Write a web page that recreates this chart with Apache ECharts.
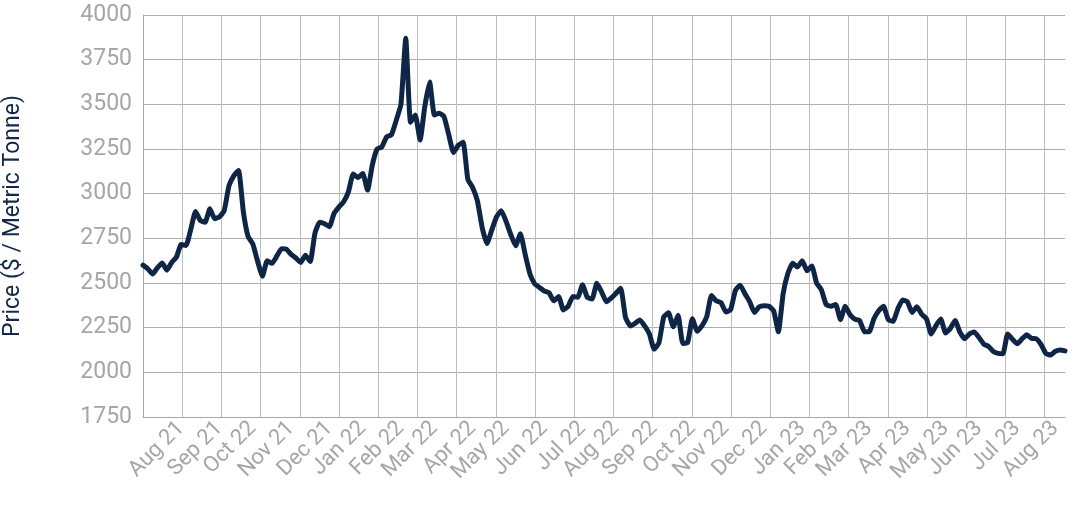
<!DOCTYPE html>
<html>
<head>
<meta charset="utf-8">
<script src="https://cdn.jsdelivr.net/npm/echarts@6/dist/echarts.min.js"></script>
<style>
html,body{margin:0;padding:0;background:#fff;}
#c{width:1080px;height:523px;}
</style>
</head>
<body>
<div id="c"></div>
<script>
// Sampling: one price every 4 days from 2021-06-29 to 2023-08-10
const startDate = '2021-06-29';
const stepDays = 4;

const prices = [
2600,2580,2550,2585,2612,2572,2615,2645,2715,2710,
2800,2900,2850,2840,2915,2860,2870,2905,3045,3100,
3130,2900,2760,2718,2620,2538,2625,2610,2650,2692,
2690,2660,2640,2615,2655,2620,2780,2840,2832,2815,
2890,2925,2955,3010,3110,3090,3113,3020,3160,3250,
3262,3318,3330,3410,3500,3870,3400,3440,3300,3490,
3625,3440,3450,3432,3330,3230,3271,3288,3080,3035,
2960,2810,2721,2796,2870,2905,2845,2770,2708,2776,
2660,2550,2495,2475,2455,2445,2400,2424,2349,2370,
2425,2420,2490,2420,2410,2498,2450,2395,2415,2442,
2470,2308,2260,2274,2293,2260,2215,2130,2165,2310,
2333,2255,2320,2162,2166,2300,2230,2260,2311,2430,
2400,2390,2338,2350,2458,2488,2440,2395,2335,2367,
2373,2370,2345,2227,2440,2555,2610,2590,2625,2568,
2595,2500,2462,2380,2370,2380,2295,2370,2322,2298,
2290,2228,2227,2300,2345,2370,2295,2285,2355,2405,
2395,2335,2367,2325,2300,2215,2262,2298,2220,2246,
2290,2225,2188,2215,2226,2195,2158,2145,2117,2106,
2104,2215,2185,2160,2187,2210,2190,2188,2155,2105,
2097,2118,2125,2120
];

// Month tick labels as printed on the original chart (first of each month, Aug 2021 .. Aug 2023)
const tickLabels = ['Aug 21','Sep 21','Oct 22','Nov 21','Dec 21','Jan 22','Feb 22','Mar 22','Apr 22',
  'May 22','Jun 22','Jul 22','Aug 22','Sep 22','Oct 22','Nov 22','Dec 22','Jan 23','Feb 23',
  'Mar 23','Apr 23','May 23','Jun 23','Jul 23','Aug 23'];
const firstTickMonth = [2021, 7]; // year, zero-based month

const yTicks = {min: 1750, max: 4000, step: 250};
const gridCount = 23.52; // vertical gridline units across the plot (lines at every unit)

// categories (dates)
const DAY = 86400000;
const t0 = Date.parse(startDate + 'T00:00:00Z');
const categories = prices.map((_, i) => {
  const d = new Date(t0 + i * stepDays * DAY);
  return d.toISOString().slice(0, 10);
});

// nearest category to the first of each labelled month
const labelAt = {};
tickLabels.forEach((lab, m) => {
  const ms = Date.UTC(firstTickMonth[0], firstTickMonth[1] + m, 1);
  let best = 0, bestD = Infinity;
  categories.forEach((c, i) => {
    const d = Math.abs(Date.parse(c + 'T00:00:00Z') - ms);
    if (d < bestD) { bestD = d; best = i; }
  });
  labelAt[best] = lab;
});

const chart = echarts.init(document.getElementById('c'), null, {renderer: 'canvas'});
const gray = '#a6a6a6';
chart.setOption({
  animation: false,
  backgroundColor: '#ffffff',
  textStyle: {fontFamily: 'Roboto'},
  grid: {left: 143, right: 15, top: 15, bottom: 106, outerBoundsMode: 'none'},
  xAxis: [{
    type: 'category',
    data: categories,
    boundaryGap: false,
    axisLine: {show: true, lineStyle: {color: gray, width: 1}},
    axisTick: {show: false},
    splitLine: {show: false},
    axisLabel: {
      interval: (idx) => labelAt.hasOwnProperty(idx),
      formatter: (val, idx) => labelAt[idx] || '',
      rotate: 45,
      margin: 8,
      color: gray,
      fontSize: 22,
      fontFamily: 'Roboto'
    }
  }, {
    type: 'value',
    position: 'bottom',
    min: 0,
    max: gridCount,
    interval: 1,
    axisLine: {show: false},
    axisTick: {show: false},
    axisLabel: {show: false},
    splitLine: {show: true, showMinLine: false, showMaxLine: false, lineStyle: {color: '#bdbdbd', width: 1}}
  }],
  yAxis: {
    type: 'value',
    min: yTicks.min,
    max: yTicks.max,
    interval: yTicks.step,
    name: 'Price ($ / Metric Tonne)',
    nameLocation: 'middle',
    nameGap: 118,
    nameTextStyle: {color: '#13284a', fontSize: 23, fontFamily: 'Roboto'},
    axisLine: {show: true, lineStyle: {color: gray, width: 1}},
    axisTick: {show: false},
    axisLabel: {color: gray, fontSize: 23, margin: 11, fontFamily: 'Roboto', formatter: (v) => String(v)},
    splitLine: {show: true, lineStyle: {color: '#adadad', width: 1}}
  },
  series: [{
    type: 'line',
    xAxisIndex: 0,
    data: prices,
    symbol: 'none',
    smooth: 0.15,
    lineStyle: {color: '#0f2545', width: 5, cap: 'round', join: 'round'},
    z: 5
  }]
});
</script>
</body>
</html>
